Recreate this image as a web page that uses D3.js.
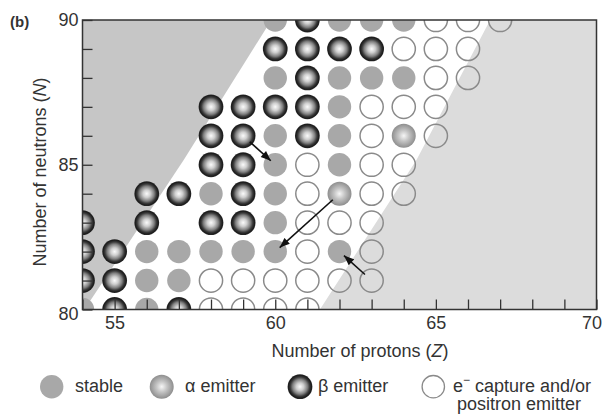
<!DOCTYPE html>
<html><head><meta charset="utf-8">
<script src="https://cdn.jsdelivr.net/npm/d3@7"></script>
<style>
body{margin:0;background:#fff}
svg{display:block}
text{font-family:"Liberation Sans",Arial,sans-serif;fill:#333}
</style>
</head><body>
<svg id="chart" width="605" height="416"></svg>
<script>
// ---- data ----
const zDomain = [54, 70];
const nDomain = [80, 90];
const zTicks = [54,55,56,57,58,59,60,61,62,63,64,65,66,67,68,69,70];
const zTickLabels = [55, 60, 65, 70];
const nTicks = [80,81,82,83,84,85,86,87,88,89,90];
const nTickLabels = [80, 85, 90];

// [Z, N]
const stable = [
  [60,90],[62,90],[63,90],[64,90],
  [60,88],[62,88],[63,88],[64,88],
  [62,87],
  [60,86],[62,86],
  [60,85],[62,85],
  [58,84],[60,84],
  [60,83],
  [56,82],[57,82],[58,82],[59,82],[60,82],[62,82],
  [56,81],[57,81],
  [54,80],[56,80]
];
const alphaEmitters = [[64,86],[62,84]];
const betaEmitters = [
  [61,90],
  [60,89],[61,89],[62,89],[63,89],
  [61,88],
  [58,87],[59,87],[60,87],[61,87],
  [58,86],[59,86],[61,86],
  [58,85],[59,85],
  [56,84],[57,84],[59,84],
  [54,83],[56,83],[58,83],[59,83],
  [54,82],[55,82],
  [54,81],[55,81],
  [55,80],[57,80]
];
const captureEmitters = [
  [65,90],[66,90],[67,90],
  [64,89],[65,89],[66,89],
  [65,88],[66,88],
  [63,87],[64,87],[65,87],
  [63,86],[65,86],
  [61,85],[63,85],[64,85],
  [61,84],[63,84],[64,84],
  [61,83],[62,83],[63,83],
  [61,82],[63,82],
  [58,81],[59,81],[60,81],[61,81],[62,81],[63,81],
  [58,80],[59,80],[60,80],[61,80]
];
const decays = [
  {from:[59,86], to:[60,85]},
  {from:[62,84], to:[60,82]},
  {from:[63,81], to:[62,82]}
];
const neutronRichRegion = [[54,79.9],[57.15,85.16],[59.88,90],[54,90]];
const protonRichRegion = [[61.39,80],[64.4,85.17],[66.69,90],[70,90],[70,80]];

// ---- layout ----
const svg = d3.select("#chart");
const L = 82.5, R = 596.5, T = 20, B = 309.5;
const x = d3.scaleLinear().domain(zDomain).range([L, R]);
const y = d3.scaleLinear().domain(nDomain).range([B, T]);
const rad = 12;

const defs = svg.append("defs");
defs.append("clipPath").attr("id","plotclip").append("rect")
  .attr("x",L).attr("y",T).attr("width",R-L).attr("height",B-T);

const gB = defs.append("radialGradient").attr("id","gradB");
[[0,"#fbfbfb"],[0.3,"#cfcfcf"],[0.6,"#808080"],[0.78,"#3a3a3a"],[0.92,"#1c1c1c"],[1,"#2a2a2a"]]
  .forEach(s=>gB.append("stop").attr("offset",s[0]).attr("stop-color",s[1]));
const gA = defs.append("radialGradient").attr("id","gradA");
[[0,"#f6f6f6"],[0.45,"#c4c4c4"],[1,"#8e8e8e"]]
  .forEach(s=>gA.append("stop").attr("offset",s[0]).attr("stop-color",s[1]));

defs.append("marker").attr("id","arrowhead")
  .attr("markerUnits","userSpaceOnUse")
  .attr("viewBox","0 0 10 8").attr("refX",10).attr("refY",4)
  .attr("markerWidth",11).attr("markerHeight",8).attr("orient","auto")
  .append("path").attr("d","M0,0L10,4L0,8Z").attr("fill","#111");

const plot = svg.append("g").attr("clip-path","url(#plotclip)");
const area = d3.line().x(d=>x(d[0])).y(d=>y(d[1]));
plot.append("path").attr("d", area(neutronRichRegion)+"Z").attr("fill","#c6c6c6");
plot.append("path").attr("d", area(protonRichRegion)+"Z").attr("fill","#dcdcdc");

function dots(data, cls, attrs){
  const s = plot.selectAll("circle."+cls).data(data).join("circle")
    .attr("class",cls).attr("cx",d=>x(d[0])).attr("cy",d=>y(d[1]));
  Object.entries(attrs).forEach(([k,v])=>s.attr(k,v));
}
dots(stable,"st",{r:11.7,fill:"#a8a8a8"});
dots(alphaEmitters,"al",{r:12,fill:"url(#gradA)"});
dots(betaEmitters,"be",{r:12.4,fill:"url(#gradB)"});
dots(captureEmitters,"ec",{r:11.6,fill:"none",stroke:"#8a8a8a","stroke-width":1.5});

// decay arrows
svg.append("g").selectAll("line").data(decays).join("line")
  .each(function(d){
    const x1=x(d.from[0]), y1=y(d.from[1]), x2=x(d.to[0]), y2=y(d.to[1]);
    const len=Math.hypot(x2-x1,y2-y1), ux=(x2-x1)/len, uy=(y2-y1)/len;
    d3.select(this).attr("x1",x1+ux*9).attr("y1",y1+uy*9)
      .attr("x2",x2-ux*6).attr("y2",y2-uy*6);
  })
  .attr("stroke","#111").attr("stroke-width",1.6).attr("marker-end","url(#arrowhead)");

// frame
svg.append("rect").attr("x",L).attr("y",T).attr("width",R-L).attr("height",B-T)
  .attr("fill","none").attr("stroke","#333").attr("stroke-width",1.5);

// axes
const xAxis = d3.axisBottom(x).tickValues(zTicks)
  .tickFormat(d=>zTickLabels.includes(d)?d:"")
  .tickSizeInner(-10).tickSizeOuter(0).tickPadding(7);
const gx = svg.append("g").attr("transform",`translate(0,${B})`).call(xAxis);
const yAxis = d3.axisLeft(y).tickValues(nTicks)
  .tickFormat(d=>nTickLabels.includes(d)?d:"")
  .tickSizeInner(-10).tickSizeOuter(0).tickPadding(4);
const gy = svg.append("g").attr("transform",`translate(${L},0)`).call(yAxis);
[gx,gy].forEach(g=>{
  g.select(".domain").remove();
  g.selectAll(".tick line").attr("stroke","#333").attr("stroke-width",1.3);
  g.selectAll(".tick text").attr("font-size",18).attr("fill","#333")
    .attr("font-family","'Liberation Sans',Arial,sans-serif");
});
gx.selectAll(".tick text").filter(d=>d===70).attr("dx",-5);
gy.selectAll(".tick text").filter(d=>d===80).attr("dy","0.55em");

// titles
svg.append("text").attr("x",10).attr("y",27).attr("font-size",15)
  .attr("font-weight","bold").text("(b)");
const xt = svg.append("text").attr("x",360).attr("y",357).attr("text-anchor","middle")
  .attr("font-size",18);
xt.append("tspan").text("Number of protons (");
xt.append("tspan").attr("font-style","italic").text("Z");
xt.append("tspan").text(")");
const yt = svg.append("text").attr("transform","translate(46,172) rotate(-90)")
  .attr("text-anchor","middle").attr("font-size",18);
yt.append("tspan").text("Number of neutrons (");
yt.append("tspan").attr("font-style","italic").text("N");
yt.append("tspan").text(")");

// legend
const lg = svg.append("g");
const ly = 386.7;
lg.append("circle").attr("cx",51.7).attr("cy",ly).attr("r",11.7).attr("fill","#a8a8a8");
lg.append("text").attr("x",75).attr("y",392).attr("font-size",18).text("stable");
lg.append("circle").attr("cx",161.7).attr("cy",ly).attr("r",12).attr("fill","url(#gradA)");
lg.append("text").attr("x",185).attr("y",392).attr("font-size",18).text("α emitter");
lg.append("circle").attr("cx",300).attr("cy",ly).attr("r",12.4).attr("fill","url(#gradB)");
lg.append("text").attr("x",318).attr("y",392).attr("font-size",18).text("β emitter");
lg.append("circle").attr("cx",433.3).attr("cy",ly).attr("r",11.2).attr("fill","none")
  .attr("stroke","#8a8a8a").attr("stroke-width",1.3);
const et = lg.append("text").attr("x",453).attr("y",392).attr("font-size",18);
et.append("tspan").text("e");
et.append("tspan").attr("font-size",12).attr("dy",-8).text("−");
et.append("tspan").attr("dy",8).text(" capture and/or");
lg.append("text").attr("x",457).attr("y",410).attr("font-size",18).text("positron emitter");
</script>
</body></html>
